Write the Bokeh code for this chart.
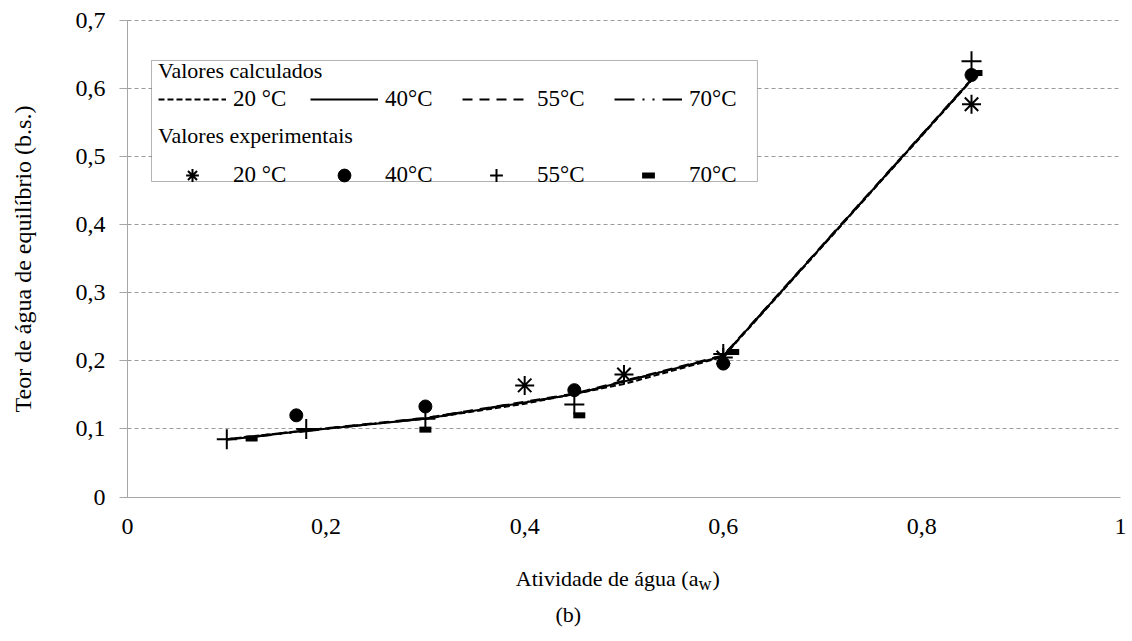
from bokeh.plotting import figure
from bokeh.models import (Legend, LegendItem, BoxAnnotation, Label, FixedTicker,
                          CustomJSTickFormatter)
from bokeh.embed import file_html
from bokeh.resources import INLINE

FONT = "Liberation Serif"

# ---- experimental values ----
aw_20 = [0.40, 0.50, 0.60, 0.85]
exp_20 = [0.164, 0.180, 0.205, 0.577]
aw_40 = [0.17, 0.30, 0.45, 0.60, 0.85]
exp_40 = [0.120, 0.133, 0.157, 0.196, 0.620]
aw_55 = [0.10, 0.18, 0.30, 0.45, 0.60, 0.85]
exp_55 = [0.085, 0.100, 0.115, 0.136, 0.210, 0.640]
aw_70 = [0.125, 0.30, 0.455, 0.61, 0.855]
exp_70 = [0.086, 0.099, 0.120, 0.213, 0.623]

# ---- calculated values ----
calc_aw_20 = [0.10, 0.18, 0.30, 0.40, 0.50, 0.60, 0.85]
calc_20 = [0.085, 0.098, 0.115, 0.137, 0.166, 0.206, 0.612]
calc_aw_40 = [0.10, 0.17, 0.30, 0.45, 0.60, 0.85]
calc_40 = [0.084, 0.096, 0.115, 0.151, 0.207, 0.613]
calc_aw_55 = [0.10, 0.18, 0.30, 0.45, 0.60, 0.85]
calc_55 = [0.085, 0.098, 0.116, 0.152, 0.208, 0.614]
calc_aw_70 = [0.125, 0.30, 0.45, 0.60, 0.85]
calc_70 = [0.088, 0.116, 0.151, 0.207, 0.613]

y_ticks = [0, 0.1, 0.2, 0.3, 0.4, 0.5, 0.6, 0.7]
x_ticks = [0, 0.2, 0.4, 0.6, 0.8, 1.0]

series_labels = ["20 °C", "40°C", "55°C", "70°C"]

# The frame covers the whole canvas; the axes sit at x=0 / y=0 inside it,
# so tick labels and caption texts are never clipped.
p = figure(width=1128, height=636, x_range=(-0.1279, 1.0081), y_range=(-0.2049, 0.7294),
           output_backend="svg", toolbar_location=None,
           min_border_left=0, min_border_right=0, min_border_top=0,
           min_border_bottom=0)
p.outline_line_color = None
p.background_fill_color = "white"

# axes
p.xaxis.ticker = FixedTicker(ticks=x_ticks)
p.yaxis.ticker = FixedTicker(ticks=y_ticks)
fmt = CustomJSTickFormatter(code="var s = tick.toFixed(1).replace('.', ','); return s.endsWith(',0') ? s.slice(0, -2) : s;")
p.xaxis.formatter = fmt
p.yaxis.formatter = fmt
p.xaxis.fixed_location = 0
p.yaxis.fixed_location = 0
p.xaxis.bounds = (0, 1)
p.yaxis.bounds = (0, 0.7)
for ax in (p.xaxis, p.yaxis):
    ax.axis_line_color = "#a6a6a6"
    ax.axis_line_width = 1
    ax.major_label_text_font = FONT
    ax.major_label_text_font_size = "24px"
    ax.major_label_text_color = "black"
    ax.minor_tick_line_color = None
    ax.major_tick_in = 0
p.xaxis.major_tick_line_color = None
p.xaxis.major_tick_out = 0
p.xaxis.major_label_standoff = 22
p.yaxis.major_tick_line_color = "#a6a6a6"
p.yaxis.major_tick_out = 8
p.yaxis.major_label_standoff = 14
p.yaxis.axis_label = "Teor de água de equilíbrio (b.s.)"
p.yaxis.axis_label_text_font = FONT
p.yaxis.axis_label_text_font_size = "24px"
p.yaxis.axis_label_text_font_style = "normal"
p.yaxis.axis_label_text_color = "black"
p.yaxis.axis_label_standoff = 37

p.xgrid.grid_line_color = None
p.ygrid.grid_line_color = "#9a9a9a"
p.ygrid.grid_line_dash = "4 3"
p.ygrid.grid_line_width = 1
p.ygrid.cross_bounds = (0, 1)

# calculated lines
l20 = p.line(calc_aw_20, calc_20, line_color="black", line_width=2, line_dash="6 3")
l40 = p.line(calc_aw_40, calc_40, line_color="black", line_width=2)
l55 = p.line(calc_aw_55, calc_55, line_color="black", line_width=2, line_dash="10 7")
l70 = p.line(calc_aw_70, calc_70, line_color="black", line_width=2, line_dash="20 8 2 8 2 8")

# experimental points
m20 = p.scatter(aw_20, exp_20, marker="asterisk", size=19, line_color="black", line_width=2)
m40 = p.scatter(aw_40, exp_40, marker="circle", size=13, fill_color="black", line_color="black")
m55 = p.scatter(aw_55, exp_55, marker="cross", size=20, line_color="black", line_width=2)
m70 = p.scatter(aw_70, exp_70, marker="dash", size=12, line_color="black", line_width=6,
                line_cap="butt")

# legend frame
box = BoxAnnotation(left=0.0242, right=0.6344, top=0.6413, bottom=0.4635,
                    fill_color="white", fill_alpha=1, line_color="black", line_width=1,
                    level="annotation")
p.add_layout(box)

def make_legend(title, renderers, loc, gh, standoff):
    return Legend(items=[LegendItem(label=lab, renderers=[r]) for lab, r in zip(series_labels, renderers)],
                  title=title, orientation="horizontal", location=loc,
                  glyph_width=68, glyph_height=gh, label_standoff=7, label_width=56,
                  spacing=21, padding=0, margin=0, title_standoff=standoff,
                  border_line_alpha=0, background_fill_alpha=0,
                  label_text_font=FONT, label_text_font_size="23px",
                  title_text_font=FONT, title_text_font_size="22px",
                  title_text_font_style="normal", label_text_color="black",
                  title_text_color="black")

leg1 = make_legend("Valores calculados", [l20, l40, l55, l70], (158, 524), 20, 2)
leg2 = make_legend("Valores experimentais", [m20, m40, m55, m70], (158, 445), 32, 10)
p.add_layout(leg1)
p.add_layout(leg2)

# x axis title with subscript, and the panel caption
lab_kw = dict(text_font=FONT, text_color="black", text_baseline="middle")
XLAB_X, XLAB_Y = 0.575, -0.1200
p.add_layout(Label(x=XLAB_X, y=XLAB_Y, text="Atividade de água (a", text_align="right",
                   text_font_size="22px", **lab_kw))
p.add_layout(Label(x=XLAB_X, y=XLAB_Y, text="w", text_align="left", x_offset=0, y_offset=-5,
                   text_font_size="18px", **lab_kw))
p.add_layout(Label(x=XLAB_X, y=XLAB_Y, text=")", text_align="left", x_offset=14,
                   text_font_size="22px", **lab_kw))
p.add_layout(Label(x=0.444, y=-0.1720, text="(b)", text_align="center",
                   text_font_size="22px", **lab_kw))

open("out.html", "w").write(file_html(p, INLINE))
